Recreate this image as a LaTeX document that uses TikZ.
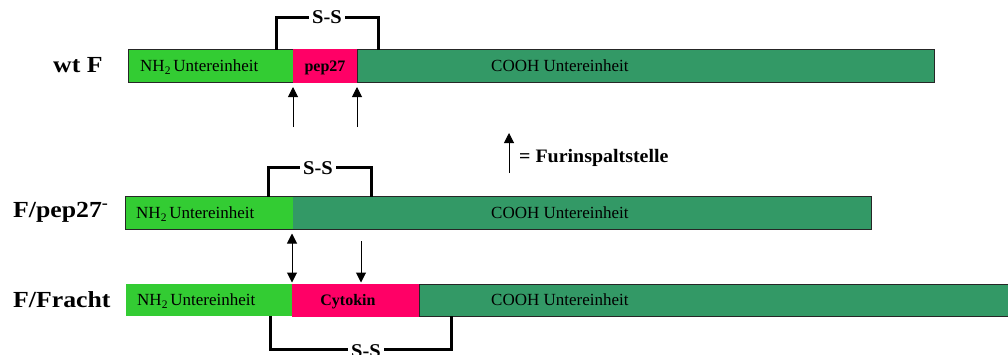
\documentclass[tikz,border=0pt]{standalone}
\usepackage{fontspec}
\setmainfont{Liberation Serif}
\newfontfamily\widefont{Liberation Serif}[FakeStretch=1.12]
\newfontfamily\ssfont{Liberation Serif}[FakeStretch=1.05]
\usetikzlibrary{arrows.meta}

\definecolor{ngreen}{HTML}{33CC33}
\definecolor{cgreen}{HTML}{339966}
\definecolor{peppink}{HTML}{FF0066}

\newcommand\lowtwo{\raisebox{-0.4ex}{\fontsize{11.5}{12}\selectfont 2}}

\begin{document}
\begin{tikzpicture}[x=1pt,y=-1pt,
  seg/.style={anchor=north west, inner sep=0pt, outer sep=0pt},
  outlined/.style={draw=black!85, line width=0.9pt},
  rowlabel/.style={anchor=base west, inner sep=0pt, font=\widefont\bfseries\fontsize{23}{25}\selectfont},
  unittext/.style={anchor=base west, inner sep=0pt, font=\fontsize{17}{19}\selectfont},
  boldtext/.style={anchor=base, inner sep=0pt, font=\bfseries\fontsize{16}{18}\selectfont},
  bracket/.style={line width=3pt, line cap=butt},
  sslabel/.style={fill=white, inner xsep=3pt, inner ysep=1pt, font=\ssfont\bfseries\fontsize{19.5}{20}\selectfont},
  furin/.style={line width=1pt, -{Triangle[width=10pt,length=10pt]}},
  furinboth/.style={line width=1pt, {Triangle[width=10pt,length=10pt]}-{Triangle[width=10pt,length=10pt]}}
]
\useasboundingbox (0,0) rectangle (1008,354);

% ---------- wt F ----------
\node[rowlabel] (lab1) at (53,72.7) {wt F};
\node[seg, outlined, fill=ngreen, minimum width=165pt, minimum height=33pt] (n1) at (128,49) {};
\node[seg, outlined, fill=cgreen, minimum width=577pt, minimum height=33pt] (c1) at (357,49) {};
\node[seg, fill=peppink, minimum width=64pt, minimum height=34pt] (p1) at (293,48.5) {};
\node[unittext] (n1t) at (140,71) {NH\lowtwo\,Untereinheit};
\node[unittext] (c1t) at (491,71) {COOH Untereinheit};
\node[boldtext] (p1t) at (325,71) {pep27};

\draw[bracket] (276,49.5) |- (378,17) -- (378,49.5);
\node[sslabel] (ss1) at (327,17.5) {S-S};

\coordinate (f1a) at (293,127);
\coordinate (f1b) at (357,127);
\draw[furin] (f1a) -- (293,87);
\draw[furin] (f1b) -- (357,87);

% ---------- legend ----------
\coordinate (lega) at (509,173);
\draw[furin] (lega) -- (509,133);
\node[anchor=base west, inner sep=0pt, font=\ssfont\bfseries\fontsize{19}{20}\selectfont] (legt) at (519,162.5) {= Furinspaltstelle};

% ---------- F/pep27- ----------
\node[rowlabel] (lab2) at (13,217.3) {F/pep27\textsuperscript{-}};
\node[seg, outlined, fill=ngreen, minimum width=167pt, minimum height=33pt] (n2) at (125,196) {};
\node[seg, outlined, fill=cgreen, minimum width=579pt, minimum height=33pt] (c2) at (292,196) {};
\fill[ngreen] (126,196.5) rectangle (292.5,228.5);
\node[unittext] (n2t) at (136,218) {NH\lowtwo\,Untereinheit};
\node[unittext] (c2t) at (491,218) {COOH Untereinheit};

\draw[bracket] (268,196.5) |- (371,167) -- (371,196.5);
\node[sslabel] (ss2) at (318,168) {S-S};

% ---------- F/Fracht ----------
\node[rowlabel] (lab3) at (13,307.7) {F/Fracht};
\node[seg, fill=ngreen, minimum width=167pt, minimum height=32pt] (n3) at (126,284) {};
\node[seg, outlined, fill=cgreen, minimum width=600pt, minimum height=32pt] (c3) at (419,284) {};
\node[seg, fill=peppink, minimum width=127pt, minimum height=33pt] (p3) at (292,283.5) {};
\node[unittext] (n3t) at (137,305.5) {NH\lowtwo\,Untereinheit};
\node[unittext] (c3t) at (491,305.5) {COOH Untereinheit};
\node[boldtext] (p3t) at (348,305.5) {Cytokin};

\draw[bracket] (270,316) |- (451,349) -- (451,316);
\node[sslabel] (ss3) at (366,351.5) {S-S};

% ---------- cleavage sites between the lower rows ----------
\coordinate (d1a) at (292,233.5);
\coordinate (d1b) at (292,282.5);
\draw[furinboth] (d1a) -- (d1b);
\coordinate (d2a) at (361,241);
\draw[furin] (d2a) -- (361,282.5);
\end{tikzpicture}
\end{document}
